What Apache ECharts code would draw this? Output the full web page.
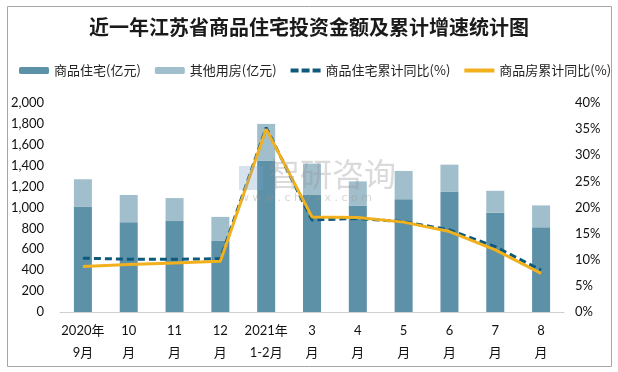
<!DOCTYPE html>
<html><head><meta charset="utf-8">
<script src="https://cdn.jsdelivr.net/npm/echarts@6/dist/echarts.min.js"></script>
<style>html,body{margin:0;padding:0;background:#fff}#c{width:618px;height:372px}</style>
</head><body><div id="c"></div>
<script>
var categories = ['2020年\n9月','10\n月','11\n月','12\n月','2021年\n1-2月','3\n月','4\n月','5\n月','6\n月','7\n月','8\n月'];
var residential = [1010,860,870,680,1450,1120,1020,1080,1150,950,810];
var otherUse = [260,260,220,230,350,300,230,270,260,210,210];
var residentialYoY = [10.3,10.1,10.1,10.2,35.3,17.6,17.9,17.3,15.7,12.5,8.0];
var allHousingYoY = [8.7,9.1,9.4,9.7,35.0,18.2,18.1,17.2,15.4,11.9,7.4];
var leftTicks = {min:0,max:2000,interval:200};
var rightTicks = {min:0,max:40,interval:5};

var font = 'Lato, "Noto Sans CJK SC", sans-serif';
var chart = echarts.init(document.getElementById('c'));
chart.setOption({
  animation:false,
  textStyle:{fontFamily:font},
  graphic:[
    {type:'rect',shape:{x:7.5,y:6.5,width:604,height:360},style:{fill:'none',stroke:'#A6A6A6',lineWidth:1},z:-1},
    {type:'text',left:268,top:158,style:{text:'智研咨询',font:'32px "Noto Sans CJK SC"',fill:'rgba(150,150,150,0.35)'},z:100},
    {type:'rect',shape:{x:239,y:166,width:24,height:24},style:{fill:'rgba(120,160,200,0.3)'},z:100},
    {type:'text',left:240,top:193,style:{text:'w w w . c h y x x . c o m',font:'11px "DejaVu Sans"',fill:'rgba(150,150,150,0.4)'},z:100}
  ],
  title:{text:'近一年江苏省商品住宅投资金额及累计增速统计图',left:'center',top:12,
    textStyle:{fontFamily:'"Noto Sans CJK SC"',fontWeight:'bold',fontSize:20,color:'#1a1a1a'}},
  legend:{top:59,left:14,itemGap:14,itemWidth:30,itemHeight:7,symbolKeepAspect:true,
    textStyle:{fontFamily:'"Noto Sans CJK SC"',fontSize:13,color:'#222'},
    data:[
      {name:'商品住宅(亿元)'},
      {name:'其他用房(亿元)'},
      {name:'商品住宅累计同比(%)',icon:'path://M0,0h8v4h-8zM11,0h8v4h-8zM22,0h8v4h-8z'},
      {name:'商品房累计同比(%)',icon:'path://M0,0h30v4h-30z'}
    ]},
  grid:{left:60,right:54,top:103,bottom:60},
  xAxis:{type:'category',data:categories,
    axisLine:{lineStyle:{color:'#D0D0D0'}},axisTick:{show:false},
    axisLabel:{color:'#111',fontSize:13,lineHeight:22,margin:8,interval:0,fontFamily:font}},
  yAxis:[
    {type:'value',min:leftTicks.min,max:leftTicks.max,interval:leftTicks.interval,
     splitLine:{show:false},axisLine:{show:false},axisTick:{show:false},
     axisLabel:{color:'#111',fontSize:13,margin:16,fontFamily:font,
       formatter:function(v){return v.toLocaleString('en-US');}}},
    {type:'value',min:rightTicks.min,max:rightTicks.max,interval:rightTicks.interval,
     splitLine:{show:false},axisLine:{show:false},axisTick:{show:false},
     axisLabel:{color:'#111',fontSize:13,margin:11,fontFamily:font,formatter:'{value}%'}}
  ],
  series:[
    {name:'商品住宅(亿元)',type:'bar',stack:'a',data:residential,barWidth:18,itemStyle:{color:'#5D91A7'}},
    {name:'其他用房(亿元)',type:'bar',stack:'a',data:otherUse,barWidth:18,itemStyle:{color:'#A0BECB'}},
    {name:'商品住宅累计同比(%)',type:'line',yAxisIndex:1,data:residentialYoY,symbol:'none',
     lineStyle:{color:'#0E5A7E',width:3,type:[7,4]},itemStyle:{color:'#0E5A7E'}},
    {name:'商品房累计同比(%)',type:'line',yAxisIndex:1,data:allHousingYoY,symbol:'none',
     lineStyle:{color:'#F2B11C',width:3},itemStyle:{color:'#F2B11C'}}
  ]
});
</script></body></html>
